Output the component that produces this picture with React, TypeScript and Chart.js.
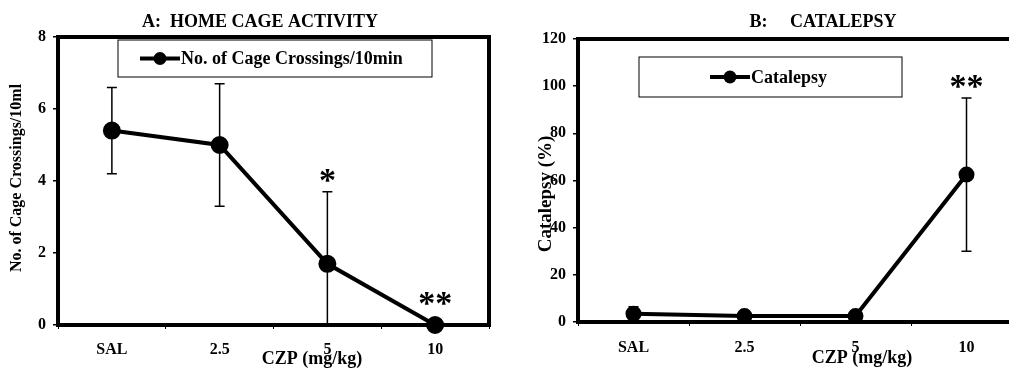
import React, { useEffect, useRef } from 'react';
import { Chart, registerables } from 'chart.js';
Chart.register(...registerables);

const categories = ['SAL', '2.5', '5', '10'];
const crossingsMean = [5.4, 5.0, 1.7, 0];
const crossingsErr = [1.2, 1.7, 2.0, 0];
const crossingsSig = ['', '', '*', '**'];
const catalepsyMean = [3.5, 2.5, 2.5, 62.5];
const catalepsyErr = [3, 0, 0, 32.5];
const catalepsySig = ['', '', '', '**'];

const FAMILY = '"Liberation Serif", "Times New Roman", serif';

type PanelCfg = {
  title: string; titleX: number; titleY: number; titleSize: number;
  xTitle: string; xTitleX: number; xTitleY: number;
  yTitle: string; yTitleX: number; yTitleY: number; yTitleSize: number;
  legendText: string; legendBox: { x: number; y: number; w: number; h: number }; legendSymX: number;
  err: number[]; sig: string[]; sigGapErr: number; sigGapZero: number;
};

function makePlugin(cfg: PanelCfg) {
  return {
    id: 'panelDecor',
    beforeDatasetsDraw(chart: any) {
      const { ctx, chartArea: a, scales } = chart;
      const xs = scales.x, ys = scales.y;
      const data = chart.data.datasets[0].data as number[];
      ctx.save();
      ctx.strokeStyle = '#000';
      ctx.lineWidth = 1.5;
      data.forEach((v, i) => {
        const e = cfg.err[i];
        if (!e) return;
        const px = xs.getPixelForValue(i);
        const top = ys.getPixelForValue(v + e);
        const bot = ys.getPixelForValue(Math.max(0, v - e));
        ctx.beginPath();
        ctx.moveTo(px, top); ctx.lineTo(px, bot);
        ctx.moveTo(px - 5, top); ctx.lineTo(px + 5, top);
        if (v - e > 0) { ctx.moveTo(px - 5, bot); ctx.lineTo(px + 5, bot); }
        ctx.stroke();
      });
      ctx.lineWidth = 4;
      ctx.strokeRect(a.left, a.top, a.right - a.left, a.bottom - a.top);
      ctx.restore();
    },
    afterDraw(chart: any) {
      const { ctx, scales } = chart;
      const xs = scales.x, ys = scales.y;
      const data = chart.data.datasets[0].data as number[];
      ctx.save();
      ctx.fillStyle = '#000';
      ctx.strokeStyle = '#000';
      ctx.textAlign = 'center';
      ctx.textBaseline = 'middle';
      ctx.font = `bold ${cfg.titleSize}px ${FAMILY}`;
      ctx.fillText(cfg.title, cfg.titleX, cfg.titleY);
      ctx.font = `bold 18px ${FAMILY}`;
      ctx.fillText(cfg.xTitle, cfg.xTitleX, cfg.xTitleY);
      ctx.save();
      ctx.translate(cfg.yTitleX, cfg.yTitleY);
      ctx.rotate(-Math.PI / 2);
      ctx.font = `bold ${cfg.yTitleSize}px ${FAMILY}`;
      ctx.fillText(cfg.yTitle, 0, 0);
      ctx.restore();
      ctx.font = `bold 34px ${FAMILY}`;
      data.forEach((v, i) => {
        const s = cfg.sig[i];
        if (!s) return;
        const px = xs.getPixelForValue(i);
        const e = cfg.err[i];
        const py = e ? ys.getPixelForValue(v + e) - cfg.sigGapErr : ys.getPixelForValue(v) - cfg.sigGapZero;
        ctx.fillText(s, px, py);
      });
      const b = cfg.legendBox;
      ctx.lineWidth = 1;
      ctx.strokeRect(b.x, b.y, b.w, b.h);
      const cy = b.y + b.h / 2;
      ctx.lineWidth = 4;
      ctx.beginPath();
      ctx.moveTo(cfg.legendSymX, cy); ctx.lineTo(cfg.legendSymX + 40, cy);
      ctx.stroke();
      ctx.beginPath();
      ctx.arc(cfg.legendSymX + 20, cy, 6.5, 0, Math.PI * 2);
      ctx.fill();
      ctx.font = `bold 18px ${FAMILY}`;
      ctx.textAlign = 'left';
      ctx.fillText(cfg.legendText, cfg.legendSymX + 41, cy + 1);
      ctx.restore();
    },
  };
}

function makeChart(canvas: HTMLCanvasElement, opts: {
  values: number[]; yMax: number; yStep: number;
  yWidth: number; xHeight: number; padTop: number; padRight: number; xTickPad: number; pointRadius: number; cfg: PanelCfg;
}) {
  const tickFont = { family: FAMILY, size: 16, weight: 'bold' as const };
  return new Chart(canvas, {
    type: 'line',
    data: {
      labels: categories,
      datasets: [{
        label: opts.cfg.legendText,
        data: opts.values,
        borderColor: '#000',
        backgroundColor: '#000',
        borderWidth: 4,
        pointRadius: opts.pointRadius,
        pointBackgroundColor: '#000',
        pointBorderColor: '#000',
        clip: false as any,
        tension: 0,
      }],
    },
    options: {
      responsive: false,
      animation: false,
      events: [],
      layout: { padding: { left: 0, right: opts.padRight, top: opts.padTop, bottom: 0 } },
      plugins: { legend: { display: false }, title: { display: false }, tooltip: { enabled: false } },
      scales: {
        x: {
          type: 'category',
          offset: true,
          grid: { display: true, offset: true, drawOnChartArea: false, tickLength: 4, color: '#000', lineWidth: 1 },
          border: { display: false },
          ticks: { color: '#000', font: tickFont, padding: opts.xTickPad, maxRotation: 0 },
          afterFit(s: any) { s.height = opts.xHeight; },
        },
        y: {
          min: 0,
          max: opts.yMax,
          ticks: { stepSize: opts.yStep, color: '#000', font: tickFont, padding: 7 },
          grid: { display: true, drawOnChartArea: false, tickLength: 5, color: '#000', lineWidth: 1.5 },
          border: { display: false },
          afterFit(s: any) { s.width = opts.yWidth; },
        },
      },
    },
    plugins: [makePlugin(opts.cfg)],
  } as any);
}

export default function App() {
  const refA = useRef<HTMLCanvasElement>(null);
  const refB = useRef<HTMLCanvasElement>(null);

  useEffect(() => {
    const a = makeChart(refA.current!, {
      values: crossingsMean, yMax: 8, yStep: 2,
      yWidth: 58, xHeight: 46, padTop: 37, padRight: 9, xTickPad: 11, pointRadius: 7,
      cfg: {
        title: 'A:  HOME CAGE ACTIVITY', titleX: 260, titleY: 22, titleSize: 18,
        xTitle: 'CZP (mg/kg)', xTitleX: 312, xTitleY: 359,
        yTitle: 'No. of Cage Crossings/10ml', yTitleX: 17, yTitleY: 178, yTitleSize: 16,
        legendText: 'No. of Cage Crossings/10min', legendBox: { x: 118, y: 40, w: 314, h: 37 }, legendSymX: 140,
        err: crossingsErr, sig: crossingsSig, sigGapErr: 10, sigGapZero: 20,
      },
    });
    const b = makeChart(refB.current!, {
      values: catalepsyMean, yMax: 120, yStep: 20,
      yWidth: 78, xHeight: 49, padTop: 39, padRight: 18, xTickPad: 12, pointRadius: 6,
      cfg: {
        title: 'B:     CATALEPSY', titleX: 323, titleY: 22, titleSize: 18,
        xTitle: 'CZP (mg/kg)', xTitleX: 362, xTitleY: 358,
        yTitle: 'Catalepsy (%)', yTitleX: 46, yTitleY: 194, yTitleSize: 19,
        legendText: 'Catalepsy', legendBox: { x: 139, y: 57, w: 263, h: 40 }, legendSymX: 210,
        err: catalepsyErr, sig: catalepsySig, sigGapErr: 10, sigGapZero: 20,
      },
    });
    return () => { a.destroy(); b.destroy(); };
  }, []);

  return (
    <div style={{ position: 'fixed', left: 0, top: 0, width: 1009, height: 371, overflow: 'hidden', background: '#fff' }}>
      <canvas ref={refA} width={500} height={371} style={{ position: 'absolute', left: 0, top: 0 }} />
      <canvas ref={refB} width={540} height={371} style={{ position: 'absolute', left: 500, top: 0 }} />
    </div>
  );
}
